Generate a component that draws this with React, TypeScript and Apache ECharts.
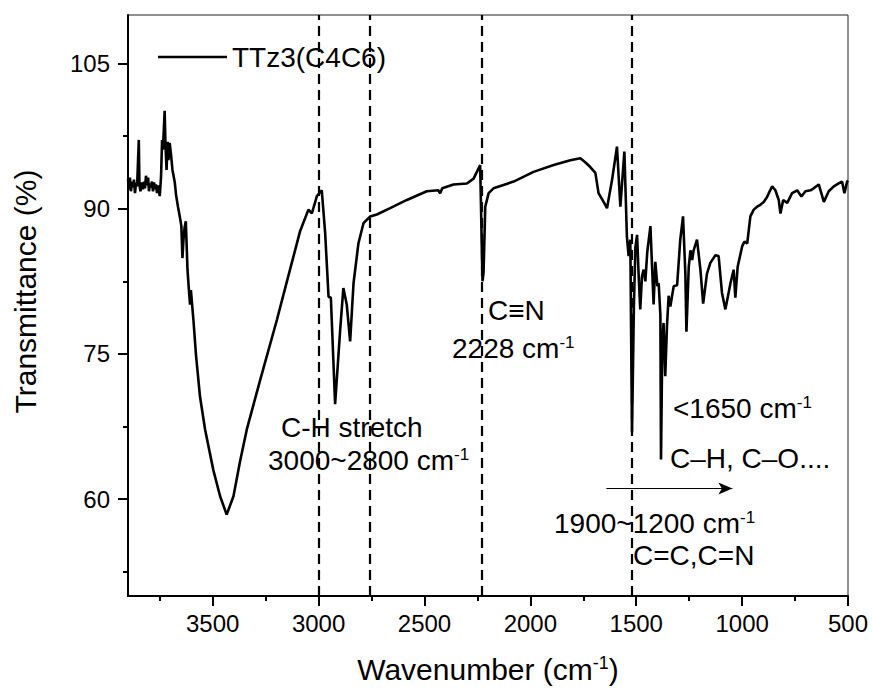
import React, { useEffect, useRef } from 'react';
import * as echarts from 'echarts';

const wavenumbers = [
  3900, 3895, 3891, 3886, 3881, 3876, 3872, 3867, 3862, 3857, 3849, 3846, 3841, 3834, 3829, 3824, 3820, 3815, 3810, 3805,
  3801, 3796, 3791, 3787, 3782, 3777, 3772, 3768, 3763, 3758, 3750, 3744, 3739, 3735, 3727, 3723, 3718, 3713, 3709, 3703,
  3697, 3690, 3679, 3673, 3664, 3654, 3648, 3643, 3638, 3633, 3627, 3624, 3619, 3614, 3607, 3603, 3591, 3579, 3560, 3536,
  3497, 3465, 3434, 3402, 3371, 3339, 3276, 3197, 3135, 3087, 3048, 3032, 3008, 2985, 2969, 2953, 2942, 2922, 2898, 2883,
  2867, 2851, 2835, 2812, 2788, 2756, 2725, 2662, 2583, 2489, 2435, 2426, 2416, 2363, 2300, 2268, 2237, 2226, 2221, 2213,
  2197, 2174, 2079, 1985, 1890, 1811, 1764, 1741, 1717, 1693, 1678, 1654, 1638, 1614, 1591, 1575, 1556, 1544, 1536, 1528,
  1520, 1511, 1504, 1496, 1489, 1481, 1473, 1465, 1457, 1448, 1433, 1418, 1410, 1400, 1394, 1386, 1383, 1377, 1371, 1363,
  1355, 1347, 1339, 1323, 1307, 1292, 1279, 1268, 1263, 1252, 1244, 1236, 1229, 1213, 1197, 1184, 1166, 1150, 1126, 1111,
  1095, 1079, 1055, 1040, 1032, 1021, 1000, 989, 976, 961, 945, 929, 914, 898, 882, 874, 858, 843, 827, 819,
  806, 787, 764, 740, 720, 701, 677, 662, 638, 614, 591, 567, 544, 528, 517, 504, 500,
];

const transmittance = [
  93.0, 92.0, 93.2, 91.8, 92.8, 92.2, 93.0, 91.6, 92.7, 92.3, 97.1, 92.5, 91.8, 92.7, 92.0, 92.8, 92.1, 93.4, 92.4, 93.2,
  91.8, 92.6, 92.2, 92.8, 91.8, 92.7, 92.0, 92.5, 91.6, 92.4, 91.3, 93.3, 97.1, 96.1, 100.1, 96.6, 94.0, 96.9, 95.0, 96.8,
  95.6, 94.0, 92.7, 91.4, 90.2, 89.0, 88.2, 84.9, 86.8, 88.0, 88.7, 86.8, 83.7, 82.1, 80.1, 81.6, 78.5, 74.9, 70.6, 67.2,
  63.0, 60.3, 58.4, 60.3, 63.9, 67.2, 72.3, 78.5, 83.7, 87.7, 89.9, 89.5, 91.3, 91.9, 87.5, 80.9, 80.8, 69.8, 77.5, 81.8,
  80.1, 76.3, 82.3, 86.4, 88.5, 89.2, 89.4, 90.05, 90.9, 91.8, 91.9, 91.6, 92.1, 92.5, 92.6, 93.1, 94.5, 82.5, 83.4, 90.2,
  91.6, 92.1, 92.8, 93.8, 94.5, 95.0, 95.2, 94.8, 94.3, 93.7, 91.6, 90.7, 90.05, 93.0, 96.4, 90.2, 95.9, 87.1, 85.1, 86.8,
  66.9, 80.0, 86.0, 87.3, 83.3, 79.6, 83.0, 83.7, 82.5, 85.5, 88.2, 80.1, 84.5, 82.0, 82.3, 79.0, 64.1, 76.0, 78.2, 72.7,
  77.8, 81.0, 79.9, 82.0, 82.1, 86.8, 89.2, 83.3, 77.3, 84.0, 85.7, 84.7, 85.7, 86.8, 83.7, 80.2, 83.3, 84.4, 85.2, 85.1,
  81.3, 79.6, 82.3, 83.7, 80.8, 84.0, 86.1, 86.6, 86.4, 89.2, 89.9, 90.2, 90.4, 90.7, 91.2, 91.6, 92.3, 91.9, 90.9, 89.5,
  90.9, 90.6, 91.6, 91.9, 91.25, 91.8, 91.9, 92.1, 92.5, 90.7, 91.8, 92.3, 92.6, 92.8, 91.6, 92.8, 92.9,
];

const xMajorTicks = [3500, 3000, 2500, 2000, 1500, 1000, 500];
const xMinorTicks = [3750, 3250, 2750, 2250, 1750, 1250, 750];
const yMajorTicks = [60, 75, 90, 105];
const yMinorTicks = [52.5, 67.5, 82.5, 97.5];
const markerWavenumbers = [3000, 2760, 2228, 1520];
const arrowFrom = [1641, 61.1];
const arrowTo = [1046, 61.1];
const seriesName = 'TTz3(C4C6)';

const FONT = '"Liberation Sans", Arial, Helvetica, sans-serif';
const BLACK = '#000';

export default function App() {
  const ref = useRef<HTMLDivElement>(null);

  useEffect(() => {
    if (!ref.current) return;
    const chart = echarts.init(ref.current, null, { renderer: 'svg' });
    const supRich = { sup: { fontSize: 17, fontFamily: FONT, color: BLACK, verticalAlign: 'top' } };
    const annText = (text: string, x: number, y: number) => ({
      type: 'text',
      x,
      y,
      style: {
        text,
        fontSize: 28,
        fontFamily: FONT,
        fill: BLACK,
        textAlign: 'left',
        verticalAlign: 'middle',
        rich: supRich,
      },
    });
    const axisLineStyle = { color: BLACK, width: 2 };
    const plain = (v: number) => String(v);

    const option: any = {
      animation: false,
      backgroundColor: '#fff',
      textStyle: { fontFamily: FONT },
      grid: {
        left: 128,
        right: 24,
        top: 15,
        bottom: 95,
        containLabel: false,
        show: true,
        borderColor: '#222',
        borderWidth: 1,
        backgroundColor: 'transparent',
      },
      legend: {
        left: 153,
        top: 38,
        itemWidth: 69,
        itemHeight: 2.5,
        icon: 'rect',
        data: [seriesName],
        textStyle: { fontSize: 28, fontFamily: FONT, color: BLACK },
      },
      xAxis: [
        {
          type: 'value',
          min: 500,
          max: 3900,
          inverse: true,
          position: 'bottom',
          axisLine: { show: true, onZero: false, lineStyle: axisLineStyle },
          axisTick: { show: true, customValues: xMinorTicks, length: 5, lineStyle: axisLineStyle },
          axisLabel: { show: false, customValues: xMinorTicks, formatter: plain },
          splitLine: { show: false },
        },
        {
          type: 'value',
          min: 500,
          max: 3900,
          inverse: true,
          position: 'bottom',
          axisLine: { show: false, onZero: false },
          axisTick: { show: true, customValues: xMajorTicks, length: 10, lineStyle: axisLineStyle },
          axisLabel: { show: true, customValues: xMajorTicks, fontSize: 24, fontFamily: FONT, color: BLACK, margin: 15, formatter: plain },
          splitLine: { show: false },
          name: 'Wavenumber (cm{sup|-1})',
          nameLocation: 'middle',
          nameGap: 58,
          nameTextStyle: { fontSize: 30, fontFamily: FONT, color: BLACK, rich: { sup: { fontSize: 18, fontFamily: FONT, color: BLACK, verticalAlign: 'top' } } },
        },
      ],
      yAxis: [
        {
          type: 'value',
          min: 50,
          max: 110,
          position: 'left',
          axisLine: { show: true, onZero: false, lineStyle: axisLineStyle },
          axisTick: { show: true, customValues: yMinorTicks, length: 5, lineStyle: axisLineStyle },
          axisLabel: { show: false, customValues: yMinorTicks, formatter: plain },
          splitLine: { show: false },
        },
        {
          type: 'value',
          min: 50,
          max: 110,
          position: 'left',
          axisLine: { show: false, onZero: false },
          axisTick: { show: true, customValues: yMajorTicks, length: 10, lineStyle: axisLineStyle },
          axisLabel: { show: true, customValues: yMajorTicks, fontSize: 24, fontFamily: FONT, color: BLACK, margin: 18, formatter: plain },
          splitLine: { show: false },
          name: 'Transmittance (%)',
          nameLocation: 'middle',
          nameGap: 88,
          nameTextStyle: { fontSize: 30, fontFamily: FONT, color: BLACK, padding: [0, 0, 0, 28] },
        },
      ],
      series: [
        {
          type: 'line',
          name: seriesName,
          xAxisIndex: 0,
          yAxisIndex: 0,
          data: wavenumbers.map((w, i) => [w, transmittance[i]]),
          showSymbol: false,
          symbol: 'none',
          lineStyle: { color: BLACK, width: 2.6 },
          itemStyle: { color: BLACK },
          markLine: {
            silent: true,
            symbol: 'none',
            label: { show: false },
            lineStyle: { type: [10, 6], width: 2.2, color: BLACK },
            data: [
              ...markerWavenumbers.map((w) => ({ xAxis: w })),
              [
                { coord: arrowFrom, symbol: 'none', lineStyle: { type: 'solid', width: 1.2, color: BLACK } },
                { coord: arrowTo, symbol: 'arrow', symbolSize: [9, 14] },
              ],
            ],
          },
        },
      ],
      graphic: [
        annText('C-H stretch', 281, 427),
        annText('3000~2800 cm{sup|-1}', 268, 460),
        annText('C\u2261N', 488, 310),
        annText('2228 cm{sup|-1}', 452, 348),
        annText('<1650 cm{sup|-1}', 673, 408),
        annText('C\u2013H, C\u2013O....', 670, 458),
        annText('1900~1200 cm{sup|-1}', 554, 523),
        annText('C=C,C=N', 633, 555),
      ],
    };
    chart.setOption(option);
    return () => chart.dispose();
  }, []);

  return (
    <div
      ref={ref}
      style={{ position: 'fixed', left: 0, top: 0, width: 872, height: 691, background: '#fff' }}
    />
  );
}
